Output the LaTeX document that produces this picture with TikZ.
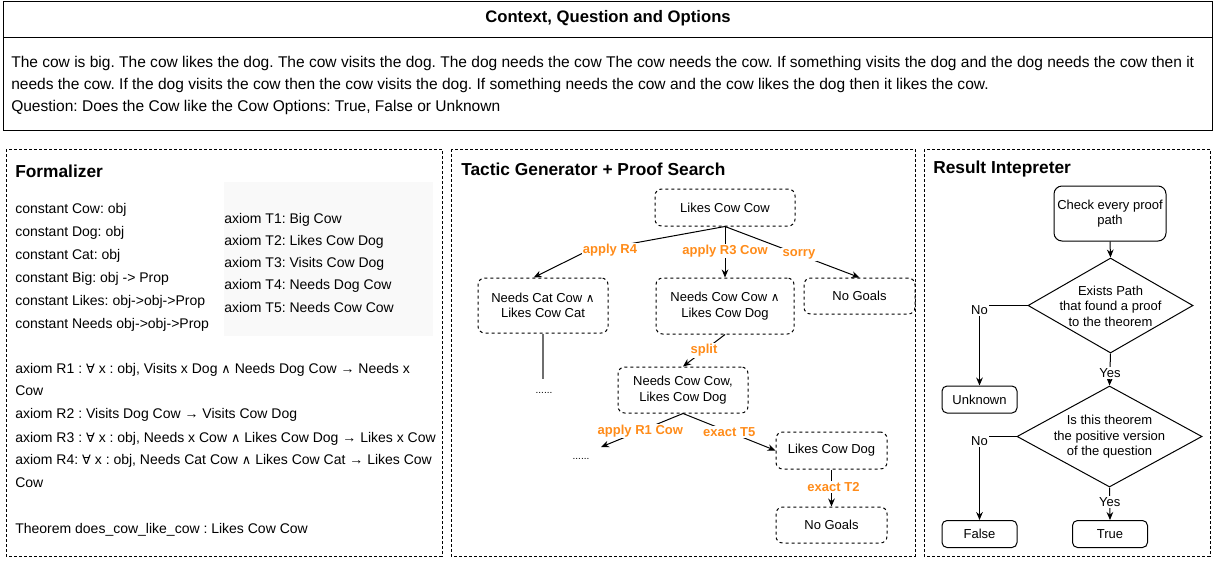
\documentclass[tikz,border=0pt]{standalone}
\usepackage{fontspec}
\setmainfont{Liberation Sans}
\newfontfamily\symf[Scale=0.92]{DejaVu Sans}
\usetikzlibrary{shapes.geometric,arrows.meta}
\definecolor{lblc}{RGB}{255,140,26}
\definecolor{pgray}{RGB}{249,249,249}
\definecolor{lgray}{RGB}{110,110,110}
\newcommand{\fa}{{\symf ∀}}
\newcommand{\lan}{{\symf ∧}}
\frenchspacing
\begin{document}
\begin{tikzpicture}[x=0.75pt,y=-0.75pt,
  txt/.style={anchor=base west, inner sep=0, font=\fontsize{10.5}{12.6}\selectfont},
  ctxt/.style={anchor=base west, inner sep=0, font=\fontsize{11.65}{14}\selectfont},
  ttl/.style={anchor=base west, inner sep=0, font=\bfseries\fontsize{13}{15.6}\selectfont},
  goal/.style={draw, dash pattern=on 2.25pt off 2.25pt, rounded corners=5pt, line width=0.75pt, align=center, inner sep=0, font=\fontsize{9.75}{11.5}\selectfont},
  flow/.style={draw, rounded corners=3.75pt, line width=0.75pt, align=center, inner sep=0, font=\fontsize{9.75}{11.7}\selectfont},
  dia/.style={draw, diamond, inner sep=0, line width=0.75pt},
  dtext/.style={align=center, inner sep=0, font=\fontsize{9.75}{11.7}\selectfont},
  arr/.style={-{Stealth[length=6pt,width=5pt]}, line width=0.75pt},
  elbl/.style={font=\bfseries\fontsize{9.75}{11}\selectfont, text=lblc, fill=white, inner sep=1pt},
  rlbl/.style={font=\fontsize{9.75}{11}\selectfont, fill=white, inner sep=1pt},
  panel/.style={draw, dash pattern=on 2.25pt off 1.5pt, line width=0.75pt},
  dotsn/.style={anchor=base, inner sep=0, font=\fontsize{7.5}{8}\selectfont}
]
\useasboundingbox (0,0) rectangle (1214,561);

% ---------- top box ----------
\draw[line width=0.75pt] (3,1.5) rectangle (1212,130);
\draw[line width=0.75pt] (3,37) -- (1212,37);
\node[anchor=base, inner sep=0, font=\bfseries\fontsize{12.5}{15}\selectfont] (ctitle) at (608,22) {Context, Question and Options};
\node[ctxt] (c1) at (11,67.5) {The cow is big. The cow likes the dog. The cow visits the dog. The dog needs the cow The cow needs the cow. If something visits the dog and the dog needs the cow then it};
\node[ctxt] (c2) at (11,89.5) {needs the cow. If the dog visits the cow then the cow visits the dog. If something needs the cow and the cow likes the dog then it likes the cow.};
\node[ctxt] (c3) at (11,111.5) {Question: Does the Cow like the Cow Options: True, False or Unknown};

% ---------- panels ----------
\draw[panel] (6,149) rectangle (442,556);
\draw[panel] (451,149) rectangle (915,556);
\draw[panel] (924,149) rectangle (1210,556);
\node[ttl] (t1) at (15,177) {Formalizer};
\node[ttl] (t2) at (461,175) {Tactic Generator + Proof Search};
\node[ttl] (t3) at (933,173) {Result Intepreter};

% ---------- formalizer ----------
\fill[pgray] (224,182) rectangle (433,336);
\node[txt] (k1) at (15,213) {constant Cow: obj};
\node[txt] (k2) at (15,236) {constant Dog: obj};
\node[txt] (k3) at (15,259.5) {constant Cat: obj};
\node[txt] (k4) at (15,282) {constant Big: obj -> Prop};
\node[txt] (k5) at (15,305) {constant Likes: obj->obj->Prop};
\node[txt] (k6) at (15,328) {constant Needs obj->obj->Prop};
\node[txt] (a1) at (224,223) {axiom T1: Big Cow};
\node[txt] (a2) at (224,245) {axiom T2: Likes Cow Dog};
\node[txt] (a3) at (224,267) {axiom T3: Visits Cow Dog};
\node[txt] (a4) at (224,289) {axiom T4: Needs Dog Cow};
\node[txt] (a5) at (224,312) {axiom T5: Needs Cow Cow};
\node[txt] (r1) at (15,373) {axiom R1 : \fa{} x : obj, Visits x Dog \lan{} Needs Dog Cow → Needs x};
\node[txt] (r1b) at (15,395) {Cow};
\node[txt] (r2) at (15,418) {axiom R2 : Visits Dog Cow → Visits Cow Dog};
\node[txt] (r3) at (15,442) {axiom R3 : \fa{} x : obj, Needs x Cow \lan{} Likes Cow Dog → Likes x Cow};
\node[txt] (r4) at (15,464) {axiom R4: \fa{} x : obj, Needs Cat Cow \lan{} Likes Cow Cat → Likes Cow};
\node[txt] (r4b) at (15,487) {Cow};
\node[txt] (thm) at (15,533) {Theorem does\_cow\_like\_cow : Likes Cow Cow};

% ---------- tactic generator ----------
\node[goal, minimum width=105pt, minimum height=27.75pt] (lcc) at (725,207.5) {Likes Cow Cow};
\node[goal, minimum width=97.5pt, minimum height=41.25pt] (ncat) at (543,305.5) {Needs Cat Cow \lan\\Likes Cow Cat};
\node[goal, minimum width=103.5pt, minimum height=42pt] (nccand) at (725,306) {Needs Cow Cow \lan\\Likes Cow Dog};
\node[goal, minimum width=83.25pt, minimum height=27pt] (ng1) at (859.5,296) {No Goals};
\node[goal, minimum width=97.5pt, minimum height=34.5pt] (ncc2) at (683,390) {Needs Cow Cow,\\Likes Cow Dog};
\node[goal, minimum width=83.25pt, minimum height=27.75pt] (lcd) at (831.5,450.5) {Likes Cow Dog};
\node[goal, minimum width=83.25pt, minimum height=27pt] (ng2) at (831.5,525) {No Goals};
\node[dotsn] (dots1) at (544,393.5) {......};
\node[dotsn] (dots2) at (581,459.5) {......};
\coordinate (r4bend) at (585,252);
\coordinate (gl1) at (543,379);
\coordinate (r1e) at (601,447);

\draw[arr] (lcc.south) -- (r4bend) -- ([xshift=-7pt]ncat.north);
\node[elbl] (lr4) at (610,250) {apply R4};
\draw[arr] (lcc.south) -- node[elbl, pos=0.48] (lr3) {apply R3 Cow} (nccand.north);
\draw[arr] (lcc.south) -- node[elbl, pos=0.55] (lso) {sorry} (ng1.north);
\draw[lgray, line width=1pt] (ncat.south) -- (gl1);
\draw[arr] (nccand.south) -- node[elbl, pos=0.5] (lsp) {split} (ncc2.north);
\draw[arr] (ncc2.south) -- node[elbl, pos=0.52] (lr1) {apply R1 Cow} (r1e);
\draw[arr] (ncc2.south) -- node[elbl, pos=0.5] (lt5) {exact T5} (lcd.west);
\draw[arr] (lcd.south) -- node[elbl, pos=0.48, xshift=1.5pt] (lt2) {exact T2} (ng2.north);

% ---------- result interpreter ----------
\node[flow, rounded corners=6pt, minimum width=84pt, minimum height=41.25pt] (chk) at (1110,213.5) {Check every proof\\path};
\node[dia, minimum width=123.75pt, minimum height=71.25pt] (d1) at (1110.5,305.5) {};
\node[dtext] (d1t) at (1110.5,306) {Exists Path\\that found a proof\\to the theorem};
\node[dia, minimum width=138.75pt, minimum height=75.75pt] (d2) at (1109.5,436.5) {};
\node[dtext] (d2t) at (1109.5,437) {Is this theorem\\the positive version\\of the question};
\node[flow, minimum width=56.25pt, minimum height=20.25pt] (unk) at (979.5,399.5) {Unknown};
\node[flow, minimum width=56.25pt, minimum height=20.25pt] (fls) at (979.5,534) {False};
\node[flow, minimum width=56.25pt, minimum height=20.25pt] (tru) at (1110,534) {True};

\draw[arr] (chk.south) -- (d1.north);
\draw[arr] (d1.west) -| node[rlbl, pos=0.5, yshift=-3.75pt] (no1) {No} (unk.north);
\draw[arr] (d1.south) -- node[rlbl, pos=0.6] (yes1) {Yes} (d2.north);
\draw[arr] (d2.west) -| node[rlbl, pos=0.5, yshift=-3.75pt] (no2) {No} (fls.north);
\draw[arr] (d2.south) -- node[rlbl, pos=0.45] (yes2) {Yes} (tru.north);
\end{tikzpicture}
\end{document}
